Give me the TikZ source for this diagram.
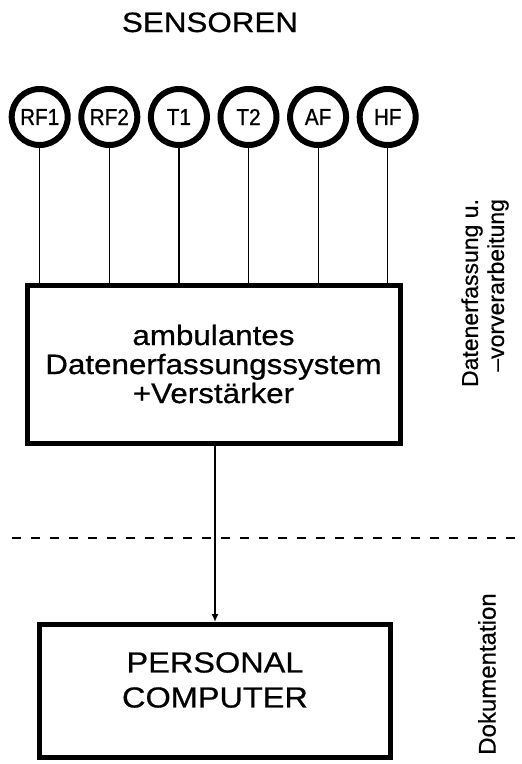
\documentclass[tikz,border=0pt]{standalone}
\usepackage{fontspec}
\setmainfont[FakeBold=0.6]{Liberation Sans}
\newfontfamily\widesf[FakeStretch=1.12,FakeBold=0.6]{Liberation Sans}
\newfontfamily\narrowsf[FakeStretch=0.9,FakeBold=0.8]{Liberation Sans}
\usepackage{tikz}
\usetikzlibrary{arrows.meta,positioning}
\tikzset{
    sensor/.style={
        draw,circle,line width=6pt,minimum size=56pt,inner sep=0pt,
        font=\narrowsf\fontsize{23}{23}\selectfont
    },
    unit/.style={
        draw,line width=5pt,inner sep=0pt,align=center
    },
    wire/.style={line width=1.2pt},
    arrow/.style={
        -{Latex[length=8pt,width=7pt]},line width=1.5pt
    },
    sidenote/.style={
        rotate=90,align=right,font=\fontsize{23}{26}\selectfont
    }
}

\begin{document}
\begin{tikzpicture}[x=1pt,y=-1pt]
\useasboundingbox (0,0) rectangle (522,764);

\node[anchor=base,font=\widesf\fontsize{28}{28}\selectfont]
(title) at (210,32) {SENSOREN};

% sensors
\foreach \nm/\lab [count=\i from 0] in {rf1/RF1,rf2/RF2,t1/T1,t2/T2,af/AF,hf/HF}
    \node[sensor] (\nm) at (39.7+69.6*\i,117) {\lab};

\node[
unit,minimum width=373pt,minimum height=158pt,
font=\widesf\fontsize{28}{29}\selectfont
]
(logger) at (213.5,364)
{ambulantes\\Datenerfassungssystem\\+Verstärker};

\foreach \nm in {rf1,rf2,t1,t2,af,hf}
    \draw[wire] (\nm.south) -- (\nm.south |- logger.north);

\draw[line width=2.5pt,dash pattern=on 9pt off 10pt] (12,538) -- (518,538);

\node[unit,minimum width=351pt,minimum height=133pt] (pc) at (215,691) {};
\node[align=center,font=\widesf\fontsize{29}{35}\selectfont]
(pclabel) at (215,680) {PERSONAL\\COMPUTER};

\draw[arrow] (pc.north |- logger.south) -- (pc.north);

\node[sidenote] (acquire) at (485,293)
{Datenerfassung u.\\–vorverarbeitung};
\node[sidenote,font=\fontsize{24}{24}\selectfont] (docu) at (487,674)
{Dokumentation};

\end{tikzpicture}
\end{document}
